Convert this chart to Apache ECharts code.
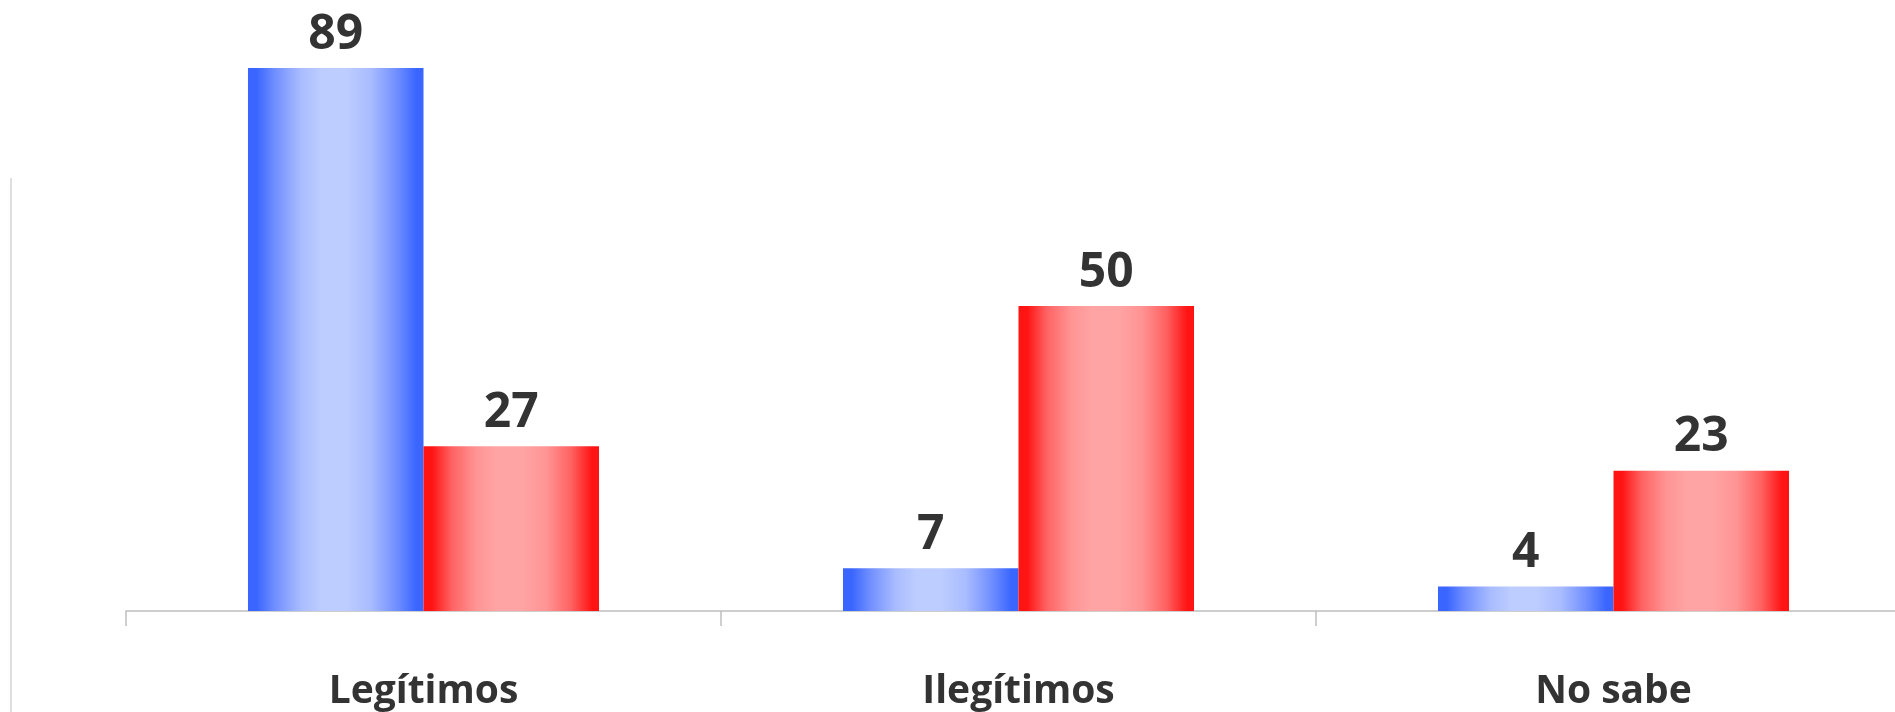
<!DOCTYPE html>
<html>
<head>
<meta charset="utf-8">
<script src="https://cdn.jsdelivr.net/npm/echarts@6/dist/echarts.min.js"></script>
<style>
html,body{margin:0;padding:0;background:#ffffff;overflow:hidden;width:1895px;height:712px;}
#chart{width:1911px;height:712px;}
</style>
</head>
<body>
<div id="chart"></div>
<script>
const categories = ['Legítimos', 'Ilegítimos', 'No sabe'];
const seriesBlue = [89, 7, 4];
const seriesRed = [27, 50, 23];

function grad(edge, mid0, mid1, mid2) {
  return new echarts.graphic.LinearGradient(0, 0, 1, 0, [
    {offset: 0, color: edge},
    {offset: 0.05, color: edge},
    {offset: 0.16, color: mid0},
    {offset: 0.3, color: mid1},
    {offset: 0.42, color: mid2},
    {offset: 0.56, color: mid2},
    {offset: 0.7, color: mid1},
    {offset: 0.84, color: mid0},
    {offset: 0.96, color: edge},
    {offset: 1, color: edge}
  ]);
}

const labelStyle = {
  show: true,
  position: 'top',
  distance: 9,
  fontFamily: 'Open Sans',
  fontWeight: 'bold',
  fontSize: 48,
  color: '#333333'
};

const chart = echarts.init(document.getElementById('chart'), null, {renderer: 'canvas'});
chart.setOption({
  backgroundColor: '#ffffff',
  animation: false,
  grid: {left: 126, right: 0, top: 1, bottom: 101, containLabel: false},
  xAxis: {
    type: 'category',
    data: categories,
    axisLine: {show: true, lineStyle: {color: '#bfbfbf', width: 1.5}},
    axisTick: {show: true, length: 15, lineStyle: {color: '#bfbfbf', width: 1.5}},
    axisLabel: {
      margin: 61,
      fontFamily: 'Open Sans',
      fontWeight: 'bold',
      fontSize: 39,
      color: '#333333'
    }
  },
  yAxis: {
    type: 'value',
    min: 0,
    max: 100,
    show: false,
    splitLine: {show: false}
  },
  graphic: [{
    type: 'line',
    shape: {x1: 11, y1: 178, x2: 11, y2: 712},
    style: {stroke: '#bfbfbf', lineWidth: 1}
  }],
  series: [
    {
      type: 'bar',
      data: seriesBlue,
      barGap: '0%',
      barCategoryGap: '41%',
      itemStyle: {color: grad('#3a66ff', '#7391ff', '#a9bcff', '#bdcdff')},
      label: labelStyle
    },
    {
      type: 'bar',
      data: seriesRed,
      barGap: '0%',
      barCategoryGap: '41%',
      itemStyle: {color: grad('#ff1414', '#ff6262', '#ff9494', '#ffa4a4')},
      label: labelStyle
    }
  ]
});
</script>
</body>
</html>
